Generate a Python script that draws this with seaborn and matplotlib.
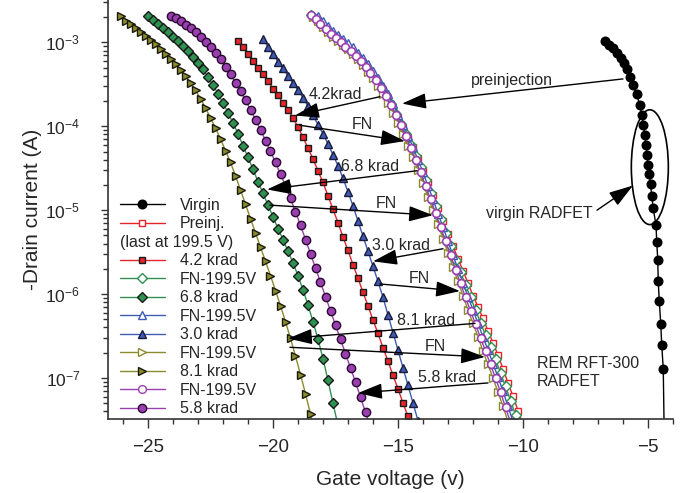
import numpy as np
import matplotlib.pyplot as plt
from matplotlib.lines import Line2D
from matplotlib.patches import Ellipse
from matplotlib.ticker import MultipleLocator, LogLocator, NullFormatter
import seaborn as sns

sns.set_style('ticks')
plt.rcParams['font.family'] = ['Liberation Sans', 'DejaVu Sans']
plt.rcParams['mathtext.fontset'] = 'custom'
plt.rcParams['mathtext.rm'] = 'Liberation Sans'
plt.rcParams['axes.unicode_minus'] = True

# --- data: gate voltage (V) and log10 of drain current (A) ---
v_virgin = [-6.72, -6.55, -6.40, -6.25, -6.10, -5.97, -5.85, -5.72, -5.59, -5.46,
            -5.32, -5.25, -5.19, -5.13, -5.08, -5.04, -5.00, -4.95, -4.90, -4.85,
            -4.79, -4.68, -4.65, -4.61, -4.59, -4.55, -4.49, -4.45, -4.39, -4.35]
log_id_virgin = [-2.98, -3.03, -3.07, -3.12, -3.18, -3.25, -3.32, -3.41, -3.51, -3.62,
                 -3.75, -3.86, -3.98, -4.10, -4.22, -4.34, -4.46, -4.57, -4.69, -4.83,
                 -4.98, -5.18, -5.38, -5.59, -5.85, -6.08, -6.36, -6.61, -6.89, -7.70]

v_preinj = [-18.4, -18.2, -18.0, -17.8, -17.6, -17.4, -17.2, -17.0, -16.8, -16.6,
            -16.4, -16.2, -16.0, -15.8, -15.6, -15.4, -15.2, -15.0, -14.8, -14.6,
            -14.4, -14.2, -14.0, -13.8, -13.6, -13.4, -13.2, -13.0, -12.8, -12.6,
            -12.4, -12.2, -12.0, -11.8, -11.6, -11.4, -11.2, -11.0, -10.8, -10.6,
            -10.4, -10.2, -10.0]
log_id_preinj = [-2.70, -2.75, -2.81, -2.87, -2.92, -2.97, -3.02, -3.07, -3.13, -3.19,
                 -3.25, -3.33, -3.41, -3.49, -3.58, -3.68, -3.79, -3.90, -4.02, -4.14,
                 -4.25, -4.38, -4.52, -4.67, -4.82, -4.97, -5.13, -5.29, -5.43, -5.58,
                 -5.72, -5.87, -6.02, -6.15, -6.29, -6.44, -6.58, -6.73, -6.89, -7.06,
                 -7.22, -7.39, -7.56]

v_42 = [-21.4, -21.2, -21.0, -20.8, -20.6, -20.4, -20.2, -20.0, -19.8, -19.6,
        -19.4, -19.2, -19.0, -18.8, -18.6, -18.4, -18.2, -18.0, -17.8, -17.6,
        -17.4, -17.2, -17.0, -16.8, -16.6, -16.4, -16.2, -16.0, -15.8, -15.6,
        -15.4, -15.2, -15.0, -14.8, -14.6, -14.4]
log_id_42 = [-2.98, -3.06, -3.14, -3.22, -3.30, -3.38, -3.46, -3.55, -3.63, -3.72,
             -3.80, -3.90, -4.01, -4.13, -4.26, -4.39, -4.53, -4.67, -4.83, -4.99,
             -5.15, -5.32, -5.48, -5.65, -5.81, -5.98, -6.14, -6.31, -6.47, -6.64,
             -6.80, -6.97, -7.13, -7.30, -7.46, -7.63]

v_fn_green = [-18.5, -18.3, -18.1, -17.9, -17.7, -17.5, -17.3, -17.1, -16.9, -16.7,
              -16.5, -16.3, -16.1, -15.9, -15.7, -15.5, -15.3, -15.1, -14.9, -14.7,
              -14.5, -14.3, -14.1, -13.9, -13.7, -13.5, -13.3, -13.1, -12.9, -12.7,
              -12.5, -12.3, -12.1, -11.9, -11.7, -11.5, -11.3, -11.1, -10.9, -10.7,
              -10.5, -10.3, -10.1]
log_id_fn_green = [-2.67, -2.72, -2.78, -2.84, -2.90, -2.95, -3.00, -3.05, -3.10, -3.16,
                   -3.22, -3.29, -3.37, -3.45, -3.53, -3.63, -3.74, -3.85, -3.97, -4.09,
                   -4.22, -4.35, -4.49, -4.64, -4.79, -4.95, -5.11, -5.27, -5.43, -5.59,
                   -5.74, -5.89, -6.04, -6.19, -6.34, -6.49, -6.63, -6.78, -6.94, -7.10,
                   -7.27, -7.44, -7.61]

v_68 = [-25.0, -24.8, -24.6, -24.4, -24.2, -24.0, -23.8, -23.6, -23.4, -23.2,
        -23.0, -22.8, -22.6, -22.4, -22.2, -22.0, -21.8, -21.6, -21.4, -21.2,
        -21.0, -20.8, -20.6, -20.4, -20.2, -20.0, -19.8, -19.6, -19.4, -19.2,
        -19.0, -18.8, -18.6, -18.4, -18.2, -18.0, -17.8, -17.6, -17.4]
log_id_68 = [-2.68, -2.73, -2.78, -2.83, -2.88, -2.93, -2.98, -3.04, -3.10, -3.17,
             -3.24, -3.32, -3.41, -3.51, -3.61, -3.72, -3.84, -3.96, -4.09, -4.23,
             -4.37, -4.51, -4.66, -4.80, -4.94, -5.08, -5.22, -5.35, -5.49, -5.63,
             -5.78, -5.95, -6.13, -6.33, -6.54, -6.77, -7.03, -7.30, -7.57]

v_fn_blue = [-18.2, -18.0, -17.8, -17.6, -17.4, -17.2, -17.0, -16.8, -16.6, -16.4,
             -16.2, -16.0, -15.8, -15.6, -15.4, -15.2, -15.0, -14.8, -14.6, -14.4,
             -14.2, -14.0, -13.8, -13.6, -13.4, -13.2, -13.0, -12.8, -12.6, -12.4,
             -12.2, -12.0, -11.8, -11.6, -11.4, -11.2, -11.0, -10.8, -10.6, -10.4]
log_id_fn_blue = [-2.68, -2.74, -2.80, -2.86, -2.91, -2.96, -3.01, -3.06, -3.12, -3.19,
                  -3.26, -3.34, -3.42, -3.52, -3.62, -3.74, -3.86, -3.98, -4.11, -4.25,
                  -4.40, -4.55, -4.71, -4.87, -5.04, -5.20, -5.37, -5.54, -5.70, -5.87,
                  -6.03, -6.19, -6.35, -6.51, -6.67, -6.83, -6.99, -7.16, -7.34, -7.52]

v_30 = [-20.4, -20.2, -20.0, -19.8, -19.6, -19.4, -19.2, -19.0, -18.8, -18.6,
        -18.4, -18.2, -18.0, -17.8, -17.6, -17.4, -17.2, -17.0, -16.8, -16.6,
        -16.4, -16.2, -16.0, -15.8, -15.6, -15.4, -15.2, -15.0, -14.8, -14.6,
        -14.4, -14.2]
log_id_30 = [-2.96, -3.05, -3.14, -3.23, -3.31, -3.40, -3.48, -3.57, -3.66, -3.76,
             -3.87, -3.98, -4.09, -4.21, -4.34, -4.47, -4.62, -4.78, -4.95, -5.13,
             -5.31, -5.49, -5.67, -5.85, -6.04, -6.25, -6.46, -6.67, -6.88, -7.09,
             -7.30, -7.51]

v_fn_olive = [-18.4, -18.2, -18.0, -17.8, -17.6, -17.4, -17.2, -17.0, -16.8, -16.6,
              -16.4, -16.2, -16.0, -15.8, -15.6, -15.4, -15.2, -15.0, -14.8, -14.6,
              -14.4, -14.2, -14.0, -13.8, -13.6, -13.4, -13.2, -13.0, -12.8, -12.6,
              -12.4, -12.2, -12.0, -11.8, -11.6, -11.4, -11.2, -11.0, -10.8, -10.6]
log_id_fn_olive = [-2.70, -2.75, -2.81, -2.87, -2.93, -2.98, -3.03, -3.08, -3.14, -3.20,
                   -3.27, -3.35, -3.43, -3.52, -3.62, -3.72, -3.84, -3.96, -4.09, -4.23,
                   -4.37, -4.52, -4.68, -4.84, -5.00, -5.17, -5.34, -5.51, -5.68, -5.85,
                   -6.02, -6.19, -6.35, -6.51, -6.68, -6.84, -7.00, -7.17, -7.34, -7.52]

v_81 = [-26.1, -25.9, -25.7, -25.5, -25.3, -25.1, -24.9, -24.7, -24.5, -24.3,
        -24.1, -23.9, -23.7, -23.5, -23.3, -23.1, -22.9, -22.7, -22.5, -22.3,
        -22.1, -21.9, -21.7, -21.5, -21.3, -21.1, -20.9, -20.7, -20.5, -20.3,
        -20.1, -19.9, -19.7, -19.5, -19.3, -19.1, -18.9, -18.7, -18.5, -18.3]
log_id_81 = [-2.69, -2.74, -2.78, -2.83, -2.87, -2.92, -2.97, -3.02, -3.08, -3.14,
             -3.20, -3.26, -3.33, -3.40, -3.48, -3.57, -3.67, -3.78, -3.90, -4.02,
             -4.15, -4.29, -4.43, -4.59, -4.76, -4.93, -5.10, -5.27, -5.44, -5.61,
             -5.78, -5.96, -6.14, -6.33, -6.53, -6.74, -6.96, -7.19, -7.43, -7.67]

v_fn_purple = [-18.5, -18.3, -18.1, -17.9, -17.7, -17.5, -17.3, -17.1, -16.9, -16.7,
               -16.5, -16.3, -16.1, -15.9, -15.7, -15.5, -15.3, -15.1, -14.9, -14.7,
               -14.5, -14.3, -14.1, -13.9, -13.7, -13.5, -13.3, -13.1, -12.9, -12.7,
               -12.5, -12.3, -12.1, -11.9, -11.7, -11.5, -11.3, -11.1, -10.9, -10.7,
               -10.5]
log_id_fn_purple = [-2.67, -2.72, -2.78, -2.84, -2.90, -2.95, -3.00, -3.05, -3.10, -3.16,
                    -3.22, -3.29, -3.37, -3.45, -3.54, -3.64, -3.75, -3.87, -3.99, -4.12,
                    -4.26, -4.40, -4.55, -4.71, -4.87, -5.03, -5.20, -5.37, -5.54, -5.71,
                    -5.87, -6.04, -6.20, -6.36, -6.52, -6.68, -6.84, -7.00, -7.17, -7.35,
                    -7.53]

v_58 = [-24.1, -23.9, -23.7, -23.5, -23.3, -23.1, -22.9, -22.7, -22.5, -22.3,
        -22.1, -21.9, -21.7, -21.5, -21.3, -21.1, -20.9, -20.7, -20.5, -20.3,
        -20.1, -19.9, -19.7, -19.5, -19.3, -19.1, -18.9, -18.7, -18.5, -18.3,
        -18.1, -17.9, -17.7, -17.5, -17.3, -17.1, -16.9, -16.7, -16.5, -16.3,
        -16.1]
log_id_58 = [-2.68, -2.71, -2.75, -2.79, -2.83, -2.87, -2.93, -2.99, -3.05, -3.12,
             -3.20, -3.29, -3.38, -3.48, -3.58, -3.69, -3.80, -3.92, -4.04, -4.17,
             -4.30, -4.43, -4.57, -4.71, -4.86, -5.02, -5.18, -5.35, -5.52, -5.69,
             -5.86, -6.03, -6.20, -6.37, -6.54, -6.71, -6.88, -7.05, -7.23, -7.41,
             -7.59]

legend_labels = ['Virgin', 'Preinj.', ' ', '4.2 krad', 'FN-199.5V', '6.8 krad',
                 'FN-199.5V', '3.0 krad', 'FN-199.5V', '8.1 krad', 'FN-199.5V', '5.8 krad']

RED = '#e8242b'
GREEN = '#2e9150'
BLUE = '#3e5cb3'
OLIVE = '#8b8b2e'
PURPLE = '#9a3fb0'
FS = 11.5

fig = plt.figure(figsize=(6.84, 4.93), dpi=100)
ax = fig.add_axes([108 / 684, 74 / 493, 565 / 684, 419 / 493])
ax.set_yscale('log')


def draw(v, log_id, color, marker, face, edge, ms, mew=1.0, **kw):
    sns.lineplot(x=v, y=10.0 ** np.array(log_id), ax=ax, color=color, lw=1.0,
                 marker=marker, markersize=ms, markerfacecolor=face,
                 markeredgecolor=edge, markeredgewidth=mew, estimator=None,
                 sort=False, legend=False, **kw)


# order follows the legend so that the hollow purple FN band ends on top
draw(v_virgin, log_id_virgin, 'black', 'o', 'black', 'black', 6.2,
     markevery=list(range(len(v_virgin) - 1)))
draw(v_preinj, log_id_preinj, RED, 's', 'white', RED, 5.0)
draw(v_42, log_id_42, RED, 's', RED, '#1a1a1a', 5.0)
draw(v_fn_green, log_id_fn_green, GREEN, 'D', 'white', GREEN, 4.6)
draw(v_68, log_id_68, GREEN, 'D', GREEN, '#1a1a1a', 5.0)
draw(v_fn_blue, log_id_fn_blue, BLUE, '^', 'white', BLUE, 5.8)
draw(v_30, log_id_30, BLUE, '^', BLUE, '#1a1a3a', 5.8)
draw(v_fn_olive, log_id_fn_olive, OLIVE, '>', 'white', OLIVE, 5.8)
draw(v_81, log_id_81, OLIVE, '>', OLIVE, '#1a1a0a', 5.8)
draw(v_fn_purple, log_id_fn_purple, PURPLE, 'o', 'white', PURPLE, 5.6, mew=1.2)
draw(v_58, log_id_58, PURPLE, 'o', PURPLE, '#2a0a30', 6.0)

# axes
ax.set_xlim(-26.6, -4.0)
ax.set_ylim(10 ** -7.49, 10 ** -2.494)
ax.xaxis.set_major_locator(MultipleLocator(5))
ax.xaxis.set_minor_locator(MultipleLocator(1))
ax.yaxis.set_minor_locator(LogLocator(base=10, subs=np.arange(2, 10)))
ax.yaxis.set_minor_formatter(NullFormatter())
ax.tick_params(axis='x', which='major', direction='out', length=6.5, width=1,
               labelsize=13.5, pad=8, color='#333333')
ax.tick_params(axis='x', which='minor', direction='out', length=3.5, width=1,
               color='#333333')
ax.tick_params(axis='y', which='major', direction='out', length=5, width=1,
               labelsize=12.5, pad=15, color='#333333')
ax.tick_params(axis='y', which='minor', direction='out', length=3.5, width=1,
               color='#333333')
for s in ['top', 'right']:
    ax.spines[s].set_visible(False)
for s in ['left', 'bottom']:
    ax.spines[s].set_linewidth(1.2)
    ax.spines[s].set_color('#333333')

ax.set_xlabel('Gate voltage (v)', fontsize=15)
ax.set_ylabel('-Drain current (A)', fontsize=15)
ax.xaxis.set_label_coords(0.5, -0.122)
ax.yaxis.set_label_coords(-0.117, 0.5)

# legend
handles = [
    Line2D([], [], color='black', lw=1, marker='o', ms=6.2, mfc='black', mec='black'),
    Line2D([], [], color=RED, lw=1, marker='s', ms=5.0, mfc='white', mec=RED),
    Line2D([], [], lw=0, marker=None),
    Line2D([], [], color=RED, lw=1, marker='s', ms=5.0, mfc=RED, mec='#1a1a1a'),
    Line2D([], [], color=GREEN, lw=1, marker='D', ms=4.6, mfc='white', mec=GREEN),
    Line2D([], [], color=GREEN, lw=1, marker='D', ms=5.0, mfc=GREEN, mec='#1a1a1a'),
    Line2D([], [], color=BLUE, lw=1, marker='^', ms=5.8, mfc='white', mec=BLUE),
    Line2D([], [], color=BLUE, lw=1, marker='^', ms=5.8, mfc=BLUE, mec='#1a1a3a'),
    Line2D([], [], color=OLIVE, lw=1, marker='>', ms=5.8, mfc='white', mec=OLIVE),
    Line2D([], [], color=OLIVE, lw=1, marker='>', ms=5.8, mfc=OLIVE, mec='#1a1a0a'),
    Line2D([], [], color=PURPLE, lw=1, marker='o', ms=5.6, mfc='white', mec=PURPLE),
    Line2D([], [], color=PURPLE, lw=1, marker='o', ms=6.0, mfc=PURPLE, mec='#2a0a30'),
]
leg = ax.legend(handles, legend_labels, loc='upper left',
                bbox_to_anchor=(0.0212, 0.528), frameon=False, fontsize=FS,
                handlelength=2.8, handletextpad=0.95, labelspacing=0.22,
                borderpad=0, borderaxespad=0)

fig.canvas.draw()
bb = leg.get_texts()[2].get_window_extent()
lb = leg.get_window_extent()
fig.text(lb.x0 / fig.bbox.width, (bb.y0 + bb.y1) / 2 / fig.bbox.height,
         '(last at 199.5 V)', fontsize=FS, va='center', ha='left')

# arrows and labels
arrow_kw = dict(arrowstyle='-|>,head_length=0.75,head_width=0.24', color='black',
                lw=1.0, shrinkA=0, shrinkB=0, mutation_scale=20)
notes = [
    ('preinjection', (-10.44, -3.45), (-6.0, -3.435), (-14.84, -3.729)),
    ('4.2krad', (-17.52, -3.624), (-15.72, -3.647), (-19.12, -3.871)),
    ('FN', (-16.44, -3.976), (-18.92, -3.988), (-14.72, -4.176)),
    ('6.8 krad', (-16.12, -4.48), (-14.24, -4.53), (-20.24, -4.753)),
    ('FN', (-15.48, -4.92), (-20.12, -4.94), (-13.6, -5.06)),
    ('3.0 krad', (-14.88, -5.42), (-13.2, -5.46), (-16.0, -5.61)),
    ('FN', (-14.16, -5.82), (-15.72, -5.88), (-12.52, -5.965)),
    ('8.1 krad', (-13.88, -6.32), (-11.92, -6.35), (-19.4, -6.53)),
    ('FN', (-13.52, -6.62), (-19.32, -6.635), (-11.52, -6.75)),
    ('5.8 krad', (-13.04, -6.99), (-11.4, -7.06), (-16.6, -7.18)),
]
for txt, tpos, tail, head in notes:
    ax.annotate('', xy=(head[0], 10 ** head[1]), xytext=(tail[0], 10 ** tail[1]),
                arrowprops=arrow_kw, zorder=6)
    ax.text(tpos[0], 10 ** tpos[1], txt, fontsize=FS, ha='center', va='center',
            zorder=7)

ax.annotate('', xy=(-5.6, 10 ** -4.706), xytext=(-7.04, 10 ** -5.0),
            arrowprops=arrow_kw, zorder=6)
ax.text(-9.36, 10 ** -5.035, 'virgin RADFET', fontsize=FS, ha='center', va='center')
ax.text(-9.44, 10 ** -6.93, 'REM RFT-300\nRADFET', fontsize=FS, ha='left',
        va='center', linespacing=1.25)
ax.add_patch(Ellipse((0.959, 0.601), 0.0655, 0.274, transform=ax.transAxes,
                     fill=False, ec='black', lw=1.2, zorder=6))

fig.savefig('out.png', dpi=100)
